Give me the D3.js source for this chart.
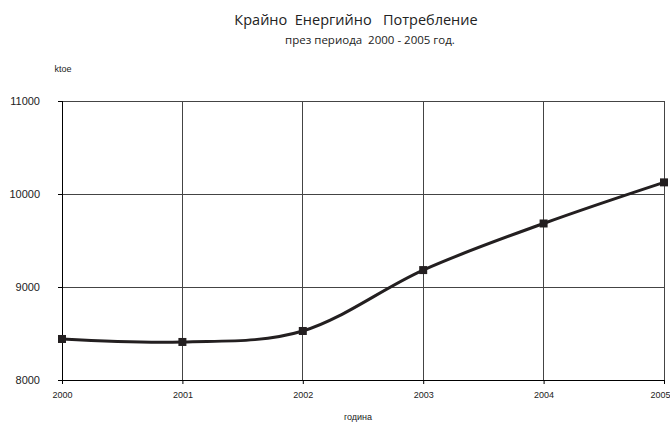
<!DOCTYPE html>
<html><head><meta charset="utf-8">
<script src="https://cdn.jsdelivr.net/npm/d3@7"></script>
<style>body{margin:0;background:#fff}</style>
</head><body>
<svg id="c" width="670" height="423"></svg>
<script>
const years = [2000, 2001, 2002, 2003, 2004, 2005];
const values = [8441, 8409, 8527, 9182, 9683, 10125];
const yTicks = [8000, 9000, 10000, 11000];
const titleText = "Крайно  Енергийно   Потребление";
const subtitleText = "през периода  2000 - 2005 год.";
const yUnit = "ktoe";
const xLabel = "година";

const svg = d3.select("#c");
const L = 62, R = 664, T = 101, B = 380;
const x = d3.scaleLinear().domain([2000, 2005]).range([L, R]);
const y = d3.scaleLinear().domain([8000, 11000]).range([B, T]);
const ink = "#231f20";

// grid
svg.append("g").selectAll("line").data(yTicks).join("line")
  .attr("x1", L).attr("x2", R).attr("y1", d => y(d)).attr("y2", d => y(d))
  .attr("stroke", "#444").attr("stroke-width", 1).attr("shape-rendering", "crispEdges");
svg.append("g").selectAll("line").data(years).join("line")
  .attr("x1", d => x(d)).attr("x2", d => x(d)).attr("y1", T).attr("y2", B)
  .attr("stroke", "#444").attr("stroke-width", 1).attr("shape-rendering", "crispEdges");

// axes
const yAxis = d3.axisLeft(y).tickValues(yTicks).tickSize(4).tickPadding(18).tickFormat(d3.format("d"));
const gy = svg.append("g").attr("transform", `translate(${L},0)`).call(yAxis);
gy.select(".domain").attr("stroke", "#000").attr("shape-rendering", "crispEdges");
gy.selectAll(".tick line").attr("stroke", "#000");
gy.selectAll("text").attr("font-family", "Liberation Sans, Arial, sans-serif").attr("font-size", 11).attr("fill", "#222");

const xAxis = d3.axisBottom(x).tickValues(years).tickSize(4).tickPadding(8).tickFormat(d3.format("d"));
const gx = svg.append("g").attr("transform", `translate(0,${B})`).call(xAxis);
gx.select(".domain").attr("stroke", "#000").attr("stroke-width", 1.5).attr("shape-rendering", "crispEdges");
gx.selectAll(".tick line").attr("stroke", "#000");
gx.selectAll("text").attr("font-family", "Liberation Sans, Arial, sans-serif").attr("font-size", 9).attr("fill", "#222");
// keep the last label inside the picture
gx.selectAll(".tick").filter(d => d === years[years.length - 1]).select("text")
  .attr("text-anchor", "end").attr("x", 670 - R);

// line
const data = years.map((yr, i) => ({yr, v: values[i]}));
svg.append("path").datum(data)
  .attr("fill", "none").attr("stroke", ink).attr("stroke-width", 3)
  .attr("d", d3.line().x(d => x(d.yr)).y(d => y(d.v)).curve(d3.curveCardinal.tension(0)));
svg.append("g").selectAll("rect").data(data).join("rect")
  .attr("x", d => x(d.yr) - 4).attr("y", d => y(d.v) - 4)
  .attr("width", 8).attr("height", 8).attr("fill", ink);

// texts
svg.append("text").attr("x", 356).attr("y", 25).attr("text-anchor", "middle")
  .attr("font-family", "Open Sans, sans-serif").attr("font-size", 14.5).attr("fill", "#222")
  .style("white-space", "pre").text(titleText);
svg.append("text").attr("x", 370).attr("y", 44).attr("text-anchor", "middle")
  .attr("font-family", "Open Sans, sans-serif").attr("font-size", 11.5).attr("fill", "#222")
  .style("white-space", "pre").text(subtitleText);
svg.append("text").attr("x", 63).attr("y", 72).attr("text-anchor", "middle")
  .attr("font-family", "Liberation Sans, Arial, sans-serif").attr("font-size", 9).attr("fill", "#222")
  .text(yUnit);
svg.append("text").attr("x", 358).attr("y", 420).attr("text-anchor", "middle")
  .attr("font-family", "Liberation Sans, Arial, sans-serif").attr("font-size", 9).attr("fill", "#222")
  .text(xLabel);
</script>
</body></html>
